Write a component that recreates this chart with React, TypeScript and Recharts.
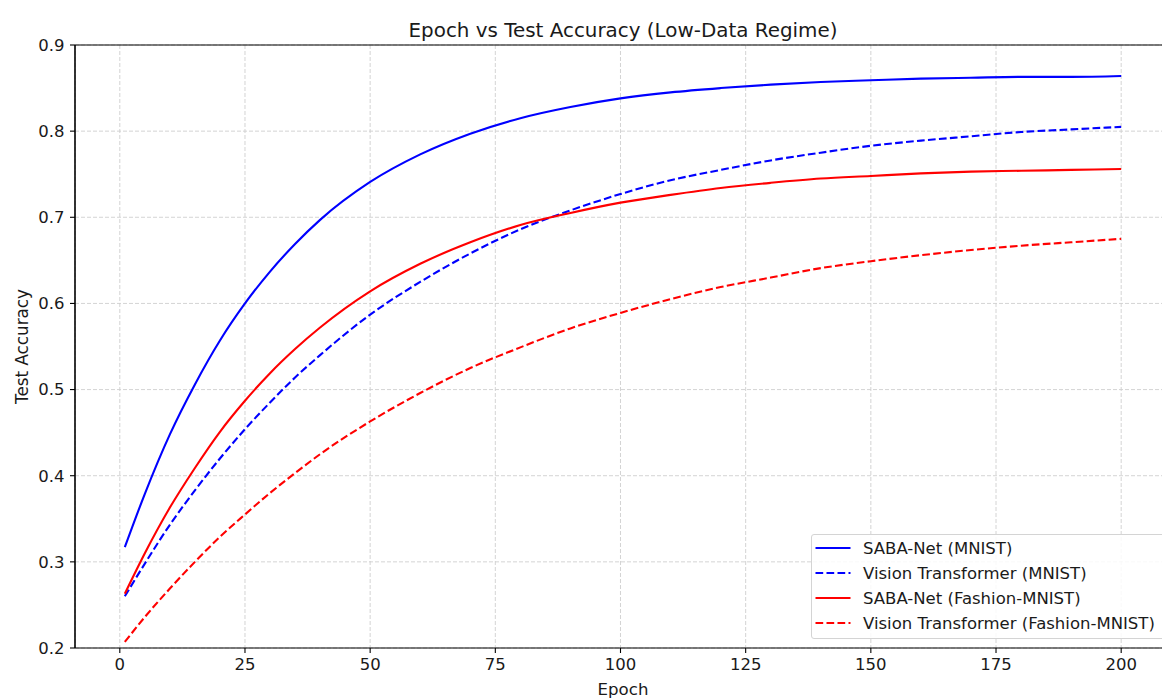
import { LineChart, Line, XAxis, YAxis, CartesianGrid, Legend, ReferenceLine } from 'recharts';

const epochs = [1, 5, 10, 15, 20, 25, 30, 35, 40, 50, 60, 70, 80, 90, 100, 110, 120, 130, 140, 150, 160, 170, 180, 190, 200];
const sabaMnist = [0.317, 0.379, 0.448, 0.506, 0.557, 0.6, 0.637, 0.669, 0.697, 0.741, 0.773, 0.797, 0.815, 0.828, 0.838, 0.845, 0.85, 0.854, 0.857, 0.859, 0.861, 0.862, 0.863, 0.863, 0.864];
const vitMnist = [0.26, 0.298, 0.343, 0.383, 0.42, 0.454, 0.485, 0.514, 0.54, 0.587, 0.625, 0.658, 0.686, 0.708, 0.727, 0.743, 0.755, 0.766, 0.775, 0.783, 0.789, 0.794, 0.799, 0.802, 0.805];
const sabaFashion = [0.263, 0.31, 0.363, 0.409, 0.451, 0.487, 0.519, 0.547, 0.572, 0.614, 0.646, 0.671, 0.691, 0.705, 0.717, 0.726, 0.734, 0.74, 0.745, 0.748, 0.751, 0.753, 0.754, 0.755, 0.756];
const vitFashion = [0.207, 0.236, 0.269, 0.3, 0.329, 0.355, 0.38, 0.403, 0.425, 0.463, 0.496, 0.525, 0.549, 0.571, 0.589, 0.605, 0.619, 0.63, 0.641, 0.649, 0.656, 0.662, 0.667, 0.671, 0.675];

const xTicks = [0, 25, 50, 75, 100, 125, 150, 175, 200];
const yTicks = [0.2, 0.3, 0.4, 0.5, 0.6, 0.7, 0.8, 0.9];

const series = [
  { key: 'sabaMnist', name: 'SABA-Net (MNIST)', color: '#0000ff', dash: undefined },
  { key: 'vitMnist', name: 'Vision Transformer (MNIST)', color: '#0000ff', dash: '7.7 3.3' },
  { key: 'sabaFashion', name: 'SABA-Net (Fashion-MNIST)', color: '#ff0000', dash: undefined },
  { key: 'vitFashion', name: 'Vision Transformer (Fashion-MNIST)', color: '#ff0000', dash: '7.7 3.3' },
];

const data = epochs.map((epoch, i) => ({
  epoch,
  sabaMnist: sabaMnist[i],
  vitMnist: vitMnist[i],
  sabaFashion: sabaFashion[i],
  vitFashion: vitFashion[i],
}));

const font = '"DejaVu Sans", sans-serif';
const xDomain = [-8.95, 209.95];
const yDomain = [0.2, 0.9];
const textColor = '#1a1a1a';

function LegendBox() {
  return (
    <div
      style={{
        border: '1px solid #d4d4d4',
        borderRadius: 3,
        background: 'rgba(255,255,255,0.85)',
        padding: '1px 10px 2px 3px',
        fontFamily: font,
        fontSize: 16.5,
        color: textColor,
        whiteSpace: 'nowrap',
      }}
    >
      {series.map((s) => (
        <div key={s.key} style={{ display: 'flex', alignItems: 'center', height: 24.9 }}>
          <svg width={36} height={10} style={{ display: 'block' }}>
            <line x1={0.5} y1={5} x2={35.5} y2={5} stroke={s.color} strokeWidth={2.1} strokeDasharray={s.dash} />
          </svg>
          <span style={{ marginLeft: 12 }}>{s.name}</span>
        </div>
      ))}
    </div>
  );
}

export default function App() {
  return (
    <div style={{ position: 'fixed', left: 0, top: 0, width: 1162, height: 698, overflow: 'hidden', background: '#fff' }}>
      <LineChart width={1171} height={698} data={data} margin={{ top: 45, right: 0, bottom: 0, left: 0 }}>
        <CartesianGrid stroke="#cfcfcf" strokeDasharray="4 2" strokeWidth={0.9} />
        <XAxis
          dataKey="epoch"
          type="number"
          domain={xDomain}
          ticks={xTicks}
          height={50}
          tickSize={5}
          tickMargin={5}
          axisLine={{ stroke: '#000', strokeWidth: 1.1 }}
          tickLine={{ stroke: '#000', strokeWidth: 1.1 }}
          tick={{ fill: textColor, fontSize: 16.5, fontFamily: font }}
          label={{
            content: (props: any) => (
              <text
                x={props.viewBox.x + props.viewBox.width / 2}
                y={695}
                textAnchor="middle"
                fontFamily={font}
                fontSize={16.6}
                fill={textColor}
              >
                Epoch
              </text>
            ),
          }}
        />
        <YAxis
          type="number"
          domain={yDomain}
          ticks={yTicks}
          width={75}
          tickSize={5}
          tickMargin={5.5}
          tickFormatter={(v: number) => v.toFixed(1)}
          axisLine={{ stroke: '#000', strokeWidth: 1.1 }}
          tickLine={{ stroke: '#000', strokeWidth: 1.1 }}
          tick={{ fill: textColor, fontSize: 16.5, fontFamily: font }}
          label={{
            content: (props: any) => (
              <text
                x={28}
                y={props.viewBox.y + props.viewBox.height / 2}
                transform={`rotate(-90, 28, ${props.viewBox.y + props.viewBox.height / 2})`}
                textAnchor="middle"
                fontFamily={font}
                fontSize={16.8}
                fill={textColor}
              >
                Test Accuracy
              </text>
            ),
          }}
        />
        <ReferenceLine
          y={yDomain[1]}
          stroke="#000"
          strokeWidth={1.1}
          label={{
            content: (props: any) => (
              <text
                x={props.viewBox.x + props.viewBox.width / 2}
                y={37}
                textAnchor="middle"
                fontFamily={font}
                fontSize={19.9}
                fill={textColor}
              >
                Epoch vs Test Accuracy (Low-Data Regime)
              </text>
            ),
          }}
        />
        <ReferenceLine x={xDomain[0]} stroke="#000" strokeWidth={1.1} />
        <ReferenceLine x={xDomain[1]} stroke="#000" strokeWidth={1.1} />
        <Legend
          layout="horizontal"
          verticalAlign="middle"
          align="center"
          content={() => <LegendBox />}
          wrapperStyle={{ position: 'absolute', left: 811, top: 534, width: 'auto' }}
        />
        {series.map((s) => (
          <Line
            key={s.key}
            dataKey={s.key}
            name={s.name}
            type="monotone"
            stroke={s.color}
            strokeWidth={2.1}
            strokeDasharray={s.dash}
            dot={false}
            activeDot={false}
            isAnimationActive={false}
          />
        ))}
      </LineChart>
    </div>
  );
}
